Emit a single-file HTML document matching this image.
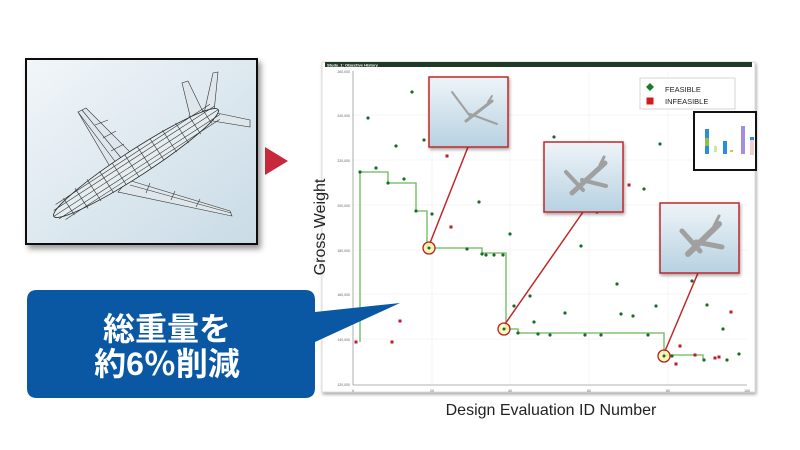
<!DOCTYPE html>
<html><head><meta charset="utf-8"><style>
html,body{margin:0;padding:0;background:#fff;width:800px;height:450px;overflow:hidden}
svg{display:block}
</style></head><body>
<svg width="800" height="450" viewBox="0 0 800 450" xmlns="http://www.w3.org/2000/svg">
<defs>
<linearGradient id="bg1" x1="0" y1="0" x2="1" y2="1"><stop offset="0" stop-color="#f2f6f9"/><stop offset="1" stop-color="#c9dbe6"/></linearGradient>
<linearGradient id="th" x1="0" y1="0" x2="0" y2="1"><stop offset="0" stop-color="#eef4f8"/><stop offset="1" stop-color="#b7d1e1"/></linearGradient>
<filter id="sh" x="-10%" y="-10%" width="130%" height="130%"><feDropShadow dx="3" dy="4" stdDeviation="3" flood-opacity="0.4"/></filter>
<filter id="sh2"><feDropShadow dx="1" dy="2" stdDeviation="1.5" flood-opacity="0.35"/></filter>
</defs>

<!-- left wireframe image -->
<rect x="26" y="59" width="231" height="185" fill="url(#bg1)" stroke="#111" stroke-width="2" filter="url(#sh)"/>
<g fill="none" stroke="#333" stroke-width="0.6">
<path d="M112 170 L78 112 L86 108 L136 158 Z" fill="#dfe7ec"/>
<path d="M78 112 L120 168 M82 110 L126 164 M95 125 L108 120 M103 138 L116 131 M111 151 L124 144"/>
<path d="M128 180 L230 211 L232 216 L118 192 Z" fill="#dfe7ec"/>
<path d="M130 185 L231 213 M150 183 L146 193 M175 191 L171 200 M200 199 L196 207"/>
<path d="M192 124 L182 83 L188 81 L205 116 Z" fill="#dfe7ec"/>
<path d="M203 118 L213 73 L218 72 L214 112 Z" fill="#dfe7ec"/>
<path d="M212 112 L250 120 L250 127 L213 121 Z" fill="#dfe7ec"/>
<g transform="translate(136,163) rotate(-33)">
<ellipse cx="0" cy="0" rx="98" ry="13" fill="#e6edf1" stroke="#222" stroke-width="0.8"/>
<path d="M-98 0 H98 M-95 -5 H97 M-95 5 H97 M-90 -9 H94 M-90 9 H94"/>
<path d="M-80 -10 V10 M-65 -12 V12 M-50 -13 V13 M-35 -13 V13 M-20 -13 V13 M-5 -13 V13 M10 -13 V13 M25 -13 V13 M40 -13 V13 M55 -12 V12 M70 -11 V11 M85 -8 V8"/>
</g>
</g>
<polygon points="265,147 288,161 265,175" fill="#c8283c"/>

<!-- chart frame -->
<rect x="322" y="62" width="433" height="330" fill="#fff" stroke="#ddd" stroke-width="1" filter="url(#sh2)"/>
<rect x="325" y="62" width="427" height="5" fill="#1f3b27"/>
<text x="327" y="66.3" font-family="Liberation Sans, sans-serif" font-size="4" fill="#fff" font-weight="bold">Study_1: Objective History</text>
<g stroke="#eee" stroke-width="0.6">
<line x1="353" y1="115" x2="747" y2="115"/><line x1="353" y1="160" x2="747" y2="160"/><line x1="353" y1="205" x2="747" y2="205"/><line x1="353" y1="250" x2="747" y2="250"/><line x1="353" y1="294" x2="747" y2="294"/><line x1="353" y1="339" x2="747" y2="339"/>
<line x1="432" y1="71" x2="432" y2="384"/><line x1="510" y1="71" x2="510" y2="384"/><line x1="589" y1="71" x2="589" y2="384"/><line x1="668" y1="71" x2="668" y2="384"/>
</g>
<g stroke="#999" stroke-width="0.8"><line x1="353" y1="71" x2="353" y2="385"/><line x1="353" y1="385" x2="747" y2="385"/></g>
<g font-family="Liberation Sans, sans-serif" font-size="3.5" fill="#666" text-anchor="end">
<text x="350" y="73">260,000</text><text x="350" y="117">240,000</text><text x="350" y="162">220,000</text><text x="350" y="207">200,000</text><text x="350" y="252">180,000</text><text x="350" y="296">160,000</text><text x="350" y="341">140,000</text><text x="350" y="386">120,000</text>
</g>
<g font-family="Liberation Sans, sans-serif" font-size="3.5" fill="#666" text-anchor="middle">
<text x="353" y="392">0</text><text x="432" y="392">20</text><text x="510" y="392">40</text><text x="589" y="392">60</text><text x="668" y="392">80</text><text x="747" y="392">100</text>
</g>
<text transform="translate(325,227) rotate(-90)" font-family="Liberation Sans, sans-serif" font-size="16" fill="#222" text-anchor="middle">Gross Weight</text>
<text x="551" y="415" font-family="Liberation Sans, sans-serif" font-size="16" fill="#222" text-anchor="middle">Design Evaluation ID Number</text>

<polyline fill="none" stroke="#6ab85a" stroke-width="1.3" points="360,342 360,172 388,172 388,183 416,183 416,211 427,211 427,248 482,248 482,253 506,253 506,329 518,329 518,333 664,333 664,355 703,355 703,359"/>

<g fill="#1d6b2c">
<circle cx="368" cy="118" r="1.6"/><circle cx="412" cy="92" r="1.6"/><circle cx="396" cy="146" r="1.6"/><circle cx="424" cy="140" r="1.6"/><circle cx="376" cy="168" r="1.6"/><circle cx="404" cy="179" r="1.6"/><circle cx="432" cy="214" r="1.6"/><circle cx="479" cy="202" r="1.6"/><circle cx="554" cy="137" r="1.6"/><circle cx="660" cy="144" r="1.6"/><circle cx="644" cy="189" r="1.6"/><circle cx="597" cy="212" r="1.6"/><circle cx="510" cy="234" r="1.6"/><circle cx="581" cy="246" r="1.6"/><circle cx="617" cy="284" r="1.6"/><circle cx="692" cy="281" r="1.6"/><circle cx="530" cy="296" r="1.6"/><circle cx="514" cy="306" r="1.6"/><circle cx="534" cy="322" r="1.6"/><circle cx="565" cy="313" r="1.6"/><circle cx="621" cy="314" r="1.6"/><circle cx="633" cy="316" r="1.6"/><circle cx="656" cy="306" r="1.6"/><circle cx="707" cy="305" r="1.6"/><circle cx="723" cy="329" r="1.6"/><circle cx="739" cy="354" r="1.6"/><circle cx="704" cy="360" r="1.6"/><circle cx="727" cy="360" r="1.6"/>
<circle cx="360" cy="172" r="1.6"/><circle cx="388" cy="183" r="1.6"/><circle cx="416" cy="211" r="1.6"/><circle cx="467" cy="249" r="1.6"/><circle cx="482" cy="254" r="1.6"/><circle cx="486" cy="255" r="1.6"/><circle cx="494" cy="255" r="1.6"/><circle cx="503" cy="255" r="1.6"/><circle cx="518" cy="333" r="1.6"/><circle cx="538" cy="334" r="1.6"/><circle cx="550" cy="335" r="1.6"/><circle cx="585" cy="335" r="1.6"/><circle cx="601" cy="335" r="1.6"/><circle cx="648" cy="335" r="1.6"/><circle cx="672" cy="356" r="1.6"/>
</g>
<g fill="#c0182c">
<rect x="354.5" y="340.5" width="3" height="3"/><rect x="390.5" y="340.5" width="3" height="3"/><rect x="398.5" y="319.5" width="3" height="3"/><rect x="445.5" y="154.5" width="3" height="3"/><rect x="449.5" y="225.5" width="3" height="3"/><rect x="627.5" y="183.5" width="3" height="3"/><rect x="678.5" y="344.5" width="3" height="3"/><rect x="674.5" y="362.5" width="3" height="3"/><rect x="693.5" y="353.5" width="3" height="3"/><rect x="713.5" y="356.5" width="3" height="3"/><rect x="717.5" y="355.5" width="3" height="3"/><rect x="729.5" y="310.5" width="3" height="3"/>
</g>

<g fill="#fbf6a8" fill-opacity="0.8" stroke="#b52020" stroke-width="1.3">
<circle cx="429" cy="248" r="6"/><circle cx="504" cy="329" r="6"/><circle cx="664" cy="356" r="6"/>
</g>
<g fill="#1d6b2c"><circle cx="429" cy="248" r="1.5"/><circle cx="504" cy="329" r="1.5"/><circle cx="664" cy="356" r="1.5"/></g>

<g stroke="#c0282a" stroke-width="1.5">
<line x1="468" y1="147" x2="430" y2="243"/><line x1="583" y1="212" x2="505" y2="324"/><line x1="698" y1="273" x2="665" y2="351"/>
</g>

<g filter="url(#sh2)">
<rect x="429" y="77" width="79" height="70" fill="url(#th)" stroke="#c0282a" stroke-width="1.5"/>
<rect x="544" y="142" width="79" height="70" fill="url(#th)" stroke="#c0282a" stroke-width="1.5"/>
<rect x="660" y="203" width="79" height="70" fill="url(#th)" stroke="#c0282a" stroke-width="1.5"/>
</g>
<g stroke="#a0a0a0" stroke-linecap="round" fill="none">
<line x1="466" y1="121" x2="492" y2="101" stroke-width="3"/><line x1="452" y1="92" x2="470" y2="116" stroke-width="2"/><line x1="470" y1="114" x2="497" y2="124" stroke-width="2"/><line x1="488" y1="102" x2="492" y2="96" stroke-width="2"/>
<line x1="572" y1="193" x2="605" y2="163" stroke-width="5"/><line x1="566" y1="172" x2="583" y2="190" stroke-width="4"/><line x1="582" y1="180" x2="606" y2="186" stroke-width="4"/><line x1="600" y1="165" x2="604" y2="157" stroke-width="3"/>
<line x1="688" y1="254" x2="719" y2="224" stroke-width="6"/><line x1="682" y1="231" x2="700" y2="251" stroke-width="5"/><line x1="696" y1="242" x2="722" y2="247" stroke-width="5"/><line x1="714" y1="226" x2="719" y2="216" stroke-width="3"/>
</g>

<rect x="640" y="78" width="95" height="31" fill="#fff" stroke="#ccc" stroke-width="0.8"/>
<polygon points="650,83 654,87 650,91 646,87" fill="#1d7a2c"/>
<rect x="646.5" y="97.5" width="7" height="7" fill="#d41a1a"/>
<text x="665" y="92" font-family="Liberation Sans, sans-serif" font-size="7.5" fill="#222">FEASIBLE</text>
<text x="665" y="104" font-family="Liberation Sans, sans-serif" font-size="7.5" fill="#222">INFEASIBLE</text>

<rect x="694" y="112" width="62" height="58" fill="#fff" stroke="#111" stroke-width="2"/>
<rect x="705" y="129" width="4" height="25" fill="#2b8fd8"/><rect x="705" y="138" width="4" height="8" fill="#8cc04a"/>
<rect x="714" y="146" width="3" height="6" fill="#cde7a8"/>
<rect x="723" y="141" width="4" height="13" fill="#2b8fd8"/>
<rect x="730" y="150" width="3" height="2" fill="#b8d050"/>
<rect x="741" y="126" width="4" height="28" fill="#a58ee0"/>
<rect x="750" y="139" width="4" height="16" fill="#f0d0cc"/><rect x="750" y="137" width="4" height="3" fill="#2b8fd8"/>

<!-- blue callout (on top) -->
<path d="M37 290 H305 Q315 290 315 300 V312 L400 303 L315 342 V388 Q315 398 305 398 H37 Q27 398 27 388 V300 Q27 290 37 290 Z" fill="#0a58a4"/>
<text x="167" y="340" font-family="Liberation Sans, Noto Sans CJK JP, sans-serif" font-weight="bold" font-size="32" fill="#fff" text-anchor="middle">総重量を</text>
<text x="167" y="375" font-family="Liberation Sans, Noto Sans CJK JP, sans-serif" font-weight="bold" font-size="32" fill="#fff" text-anchor="middle">約6％削減</text>
</svg>
</body></html>
